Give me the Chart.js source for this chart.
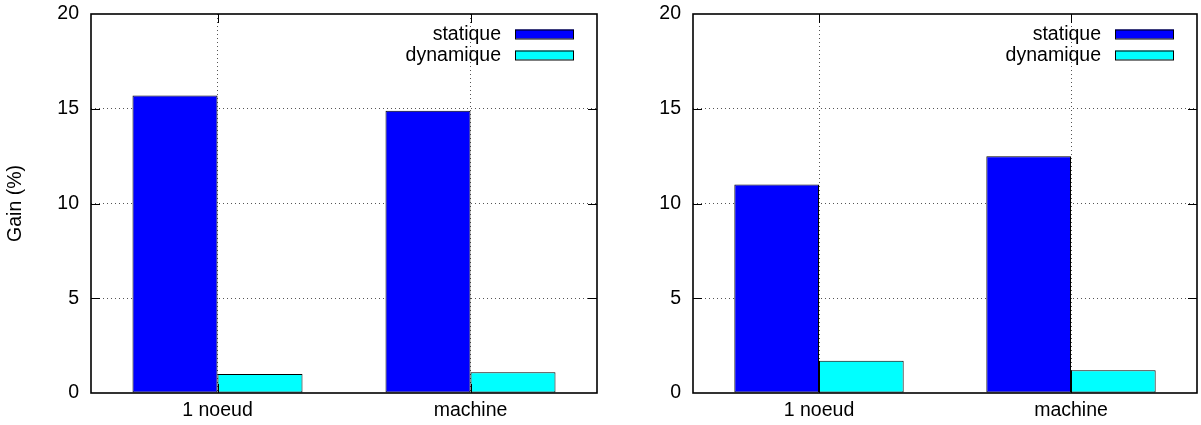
<!DOCTYPE html>
<html>
<head>
<meta charset="utf-8">
<script src="https://cdn.jsdelivr.net/npm/chart.js@4/dist/chart.umd.min.js"></script>
<style>
  body { margin: 0; background: #fff; width: 1201px; height: 425px; position: relative; overflow: hidden; }
  .box { position: absolute; top: 0; height: 425px; }
</style>
</head>
<body>
<div class="box" style="left:0;width:600px"><canvas id="leftChart"></canvas></div>
<div class="box" style="left:600px;width:601px"><canvas id="rightChart"></canvas></div>
<script>
const categories = ['1 noeud', 'machine'];
const seriesNames = ['statique', 'dynamique'];
const seriesColors = ['#0000ff', '#00ffff'];
const leftStatique = [15.7, 14.9];
const leftDynamique = [1.0, 1.1];
const rightStatique = [11.0, 12.5];
const rightDynamique = [1.7, 1.2];
const yTicks = [0, 5, 10, 15, 20];

const FONT = { family: "'Liberation Sans', Arial, sans-serif", size: 19.5 };

// cadre + graduations vers l'intérieur, façon gnuplot
const gnuplotFrame = {
    id: 'gnuplotFrame',
    afterDatasetsDraw(chart) {
        const { ctx, chartArea: a, scales: { x, y } } = chart;
        ctx.save();
        ctx.strokeStyle = '#000';
        ctx.lineWidth = 1;
        ctx.beginPath();
        yTicks.forEach(v => {
            if (v === yTicks[0] || v === yTicks[yTicks.length - 1]) return;
            const py = Math.round(y.getPixelForValue(v)) + 0.5;
            ctx.moveTo(a.left, py); ctx.lineTo(a.left + 9, py);
            ctx.moveTo(a.right, py); ctx.lineTo(a.right - 9, py);
        });
        categories.forEach((c, i) => {
            const px = Math.round(x.getPixelForValue(i)) + 0.5;
            ctx.moveTo(px, a.bottom); ctx.lineTo(px, a.bottom - 9);
            ctx.moveTo(px, a.top); ctx.lineTo(px, a.top + 9);
        });
        ctx.stroke();
        ctx.lineWidth = 1.6;
        ctx.strokeRect(a.left, a.top, a.right - a.left, a.bottom - a.top);
        ctx.restore();
    }
};

// légende en haut à droite : texte puis échantillon
const gnuplotLegend = {
    id: 'gnuplotLegend',
    afterDraw(chart) {
        const { ctx, chartArea: a } = chart;
        ctx.save();
        ctx.font = FONT.size + 'px ' + FONT.family;
        ctx.textAlign = 'right';
        ctx.textBaseline = 'middle';
        chart.data.datasets.forEach((ds, i) => {
            const cy = a.top + 20 + i * 21;
            ctx.fillStyle = '#000';
            ctx.fillText(ds.label, a.right - 96, cy + 1);
            ctx.fillStyle = ds.backgroundColor;
            ctx.fillRect(a.right - 82, cy - 4.5, 59, 9);
            ctx.strokeStyle = '#000';
            ctx.lineWidth = 1;
            ctx.strokeRect(a.right - 82 + 0.5, cy - 4.5 + 0.5, 58, 9);
        });
        ctx.restore();
    }
};

function makeChart(elementName, statique, dynamique, withTitle, yWidth, padRight) {
    const ctx = document.getElementById(elementName);
    const values = [statique, dynamique];
    new Chart(ctx, {
        type: 'bar',
        data: {
            labels: categories,
            datasets: seriesNames.map((name, i) => ({
                label: name,
                data: values[i],
                backgroundColor: seriesColors[i],
                borderColor: '#000',
                borderWidth: 1,
                borderSkipped: false,
                categoryPercentage: 0.672,
                barPercentage: 1
            }))
        },
        options: {
            responsive: true,
            maintainAspectRatio: false,
            animation: false,
            layout: { padding: { top: 14, right: padRight, left: 0, bottom: 0 } },
            plugins: { legend: { display: false }, tooltip: { enabled: false } },
            scales: {
                x: {
                    grid: {
                        offset: false,
                        drawTicks: false,
                        color: '#555',
                        lineWidth: 1
                    },
                    border: { display: false, dash: [1, 3] },
                    ticks: { color: '#000', font: FONT, padding: 6 },
                    afterFit(scale) { scale.height = 32; }
                },
                y: {
                    min: 0,
                    max: 20,
                    afterBuildTicks(scale) { scale.ticks = yTicks.map(v => ({ value: v })); },
                    grid: {
                        drawTicks: false,
                        color: c => (c.tick && (c.tick.value === 0 || c.tick.value === 20)) ? 'rgba(0,0,0,0)' : '#555',
                        lineWidth: 1
                    },
                    border: { display: false, dash: [1, 3] },
                    ticks: { color: '#000', font: FONT, padding: 12 },
                    title: {
                        display: withTitle,
                        text: 'Gain (%)',
                        color: '#000',
                        font: FONT
                    },
                    afterFit(scale) {
                        scale.width = yWidth;
                        scale.paddingTop = 0;
                        scale.paddingBottom = 0;
                    }
                }
            }
        },
        plugins: [gnuplotFrame, gnuplotLegend]
    });
}

window.addEventListener('load', function () {
    makeChart('leftChart', leftStatique, leftDynamique, true, 91, 3);
    makeChart('rightChart', rightStatique, rightDynamique, false, 93, 4);
});
</script>
</body>
</html>
